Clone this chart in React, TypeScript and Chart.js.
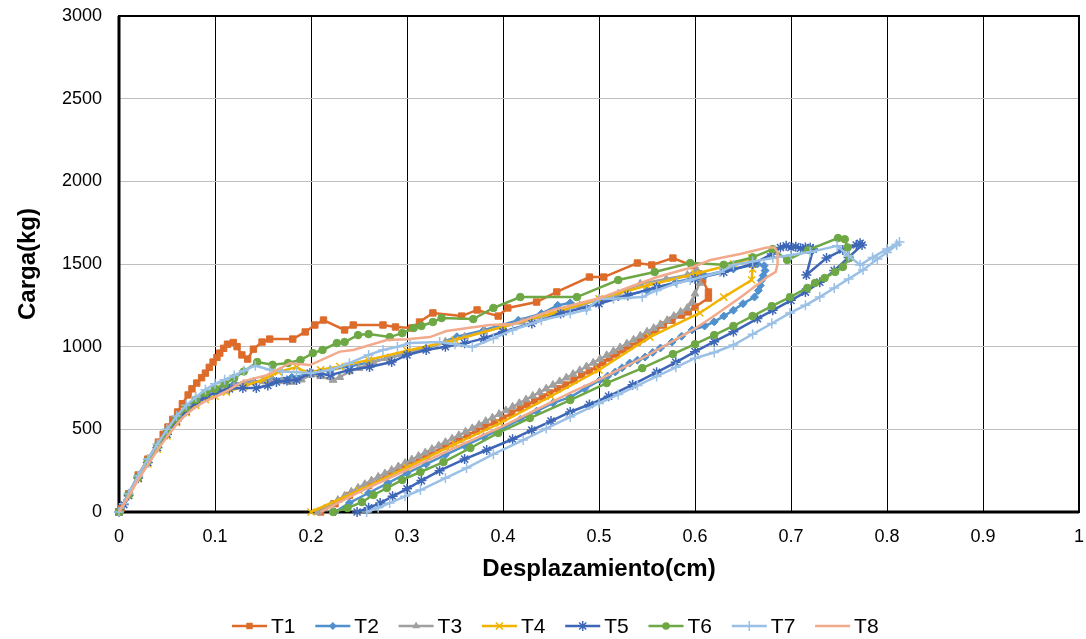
import React, { useEffect, useRef } from "react";
import { Chart, registerables } from "chart.js";

Chart.register(...registerables);

const seriesNames = ["T1", "T2", "T3", "T4", "T5", "T6", "T7", "T8"];
const xTickLabels = ["0", "0.1", "0.2", "0.3", "0.4", "0.5", "0.6", "0.7", "0.8", "0.9", "1"];
const yTickLabels = ["0", "500", "1000", "1500", "2000", "2500", "3000"];
const xAxisTitle = "Desplazamiento(cm)";
const yAxisTitle = "Carga(kg)";

type P = [number, number];

const t1: P[] = [
  [0, 0], [0.002, 20], [0.01, 110], [0.02, 224], [0.03, 320], [0.041, 423], [0.046, 470], [0.051, 514],
  [0.056, 560], [0.061, 605], [0.066, 655], [0.072, 708], [0.076, 745], [0.081, 780], [0.086, 812],
  [0.09, 840], [0.094, 875], [0.098, 907], [0.102, 935], [0.105, 961], [0.109, 990], [0.113, 1015],
  [0.119, 1025], [0.123, 1000], [0.128, 950], [0.134, 925], [0.14, 985], [0.149, 1028], [0.157, 1046],
  [0.181, 1046], [0.194, 1089], [0.204, 1131], [0.213, 1161], [0.235, 1101], [0.244, 1131], [0.275, 1131],
  [0.288, 1119], [0.305, 1113], [0.313, 1149], [0.327, 1204], [0.357, 1185], [0.373, 1222], [0.395, 1185],
  [0.405, 1234], [0.435, 1270], [0.456, 1331], [0.49, 1421], [0.505, 1421], [0.54, 1506], [0.555, 1494],
  [0.577, 1536], [0.597, 1490], [0.604, 1440], [0.608, 1403], [0.614, 1331], [0.614, 1294],
  [0.6, 1240], [0.593, 1210], [0.586, 1191], [0.576, 1160], [0.567, 1131], [0.559, 1100], [0.551, 1070],
  [0.545, 1048], [0.54, 1028], [0.532, 1003], [0.525, 980], [0.518, 955], [0.511, 931], [0.504, 905],
  [0.498, 877], [0.49, 853], [0.482, 829], [0.474, 798], [0.465, 768], [0.457, 745], [0.449, 720],
  [0.441, 696], [0.433, 672], [0.425, 650], [0.418, 629], [0.409, 598], [0.4, 568], [0.391, 541],
  [0.381, 514], [0.372, 490], [0.363, 465], [0.354, 440], [0.34, 400], [0.32, 340], [0.3, 285],
  [0.28, 225], [0.26, 160], [0.24, 100], [0.225, 50], [0.21, 0],
];

const t2: P[] = [
  [0, 0], [0.01, 110], [0.02, 215], [0.03, 315], [0.04, 405], [0.05, 490], [0.06, 570], [0.07, 630],
  [0.08, 680], [0.09, 715], [0.1, 740], [0.11, 760], [0.12, 775], [0.14, 790], [0.16, 800], [0.18, 815],
  [0.2, 835], [0.22, 860], [0.24, 880], [0.26, 905], [0.28, 930], [0.3, 960], [0.32, 990], [0.352, 1060],
  [0.38, 1100], [0.416, 1160], [0.44, 1200], [0.457, 1250], [0.47, 1265], [0.487, 1234], [0.5, 1270],
  [0.52, 1300], [0.55, 1340], [0.58, 1390], [0.61, 1430], [0.64, 1470], [0.665, 1500], [0.672, 1490],
  [0.673, 1460], [0.671, 1430], [0.669, 1400], [0.668, 1370], [0.666, 1340], [0.662, 1300],
  [0.65, 1260], [0.64, 1220], [0.63, 1185], [0.62, 1150], [0.61, 1125], [0.597, 1101], [0.586, 1063],
  [0.576, 1028], [0.564, 992], [0.556, 965], [0.548, 937], [0.54, 918], [0.532, 901], [0.524, 872],
  [0.517, 847], [0.509, 822], [0.501, 798], [0.485, 745], [0.47, 695], [0.452, 659], [0.435, 610],
  [0.418, 560], [0.4, 508], [0.38, 455], [0.36, 400], [0.34, 345], [0.32, 290], [0.3, 235], [0.28, 175],
  [0.26, 115], [0.24, 55], [0.225, 0],
];

const t3: P[] = [
  [0, 0], [0.01, 105], [0.02, 215], [0.03, 310], [0.04, 400], [0.05, 480], [0.06, 560], [0.07, 620],
  [0.08, 670], [0.09, 700], [0.1, 725], [0.11, 745], [0.12, 760], [0.13, 775], [0.14, 785], [0.15, 790],
  [0.16, 795], [0.17, 790], [0.18, 786], [0.19, 800], [0.2, 830], [0.21, 820], [0.223, 798], [0.23, 815],
  [0.24, 850], [0.25, 870], [0.265, 907], [0.28, 930], [0.3, 960], [0.32, 990], [0.34, 1030], [0.36, 1060],
  [0.38, 1090], [0.4, 1120], [0.42, 1150], [0.44, 1180], [0.46, 1210], [0.48, 1250], [0.5, 1285],
  [0.52, 1320], [0.543, 1380], [0.57, 1410], [0.592, 1433], [0.602, 1464], [0.603, 1420], [0.605, 1385],
  [0.6, 1320], [0.597, 1270], [0.592, 1234],
  [0.585, 1210], [0.578, 1185], [0.571, 1160], [0.564, 1135], [0.557, 1112], [0.55, 1090], [0.543, 1066],
  [0.536, 1042], [0.529, 1018], [0.522, 995], [0.515, 972], [0.508, 948], [0.501, 925], [0.494, 902],
  [0.487, 880], [0.48, 857], [0.473, 834], [0.466, 812], [0.459, 790], [0.452, 768], [0.445, 746],
  [0.438, 724], [0.431, 702], [0.424, 680], [0.417, 658], [0.41, 636], [0.403, 614], [0.396, 592],
  [0.389, 570], [0.382, 549], [0.375, 527], [0.368, 506], [0.361, 485], [0.354, 464], [0.347, 443],
  [0.34, 422], [0.333, 401], [0.326, 380], [0.319, 359], [0.312, 338], [0.305, 317], [0.298, 296],
  [0.291, 275], [0.284, 254], [0.277, 233], [0.27, 212], [0.263, 190], [0.256, 168], [0.249, 146],
  [0.242, 122], [0.235, 98], [0.228, 72], [0.221, 46], [0.214, 20], [0.207, 0],
];

const t4: P[] = [
  [0, 0], [0.01, 100], [0.02, 200], [0.03, 290], [0.04, 380], [0.05, 460], [0.06, 540], [0.07, 600],
  [0.08, 645], [0.09, 680], [0.1, 700], [0.112, 725], [0.13, 760], [0.15, 800], [0.166, 847], [0.185, 877],
  [0.196, 840], [0.21, 860], [0.23, 880], [0.26, 920], [0.3, 975], [0.35, 1040], [0.4, 1120], [0.45, 1200],
  [0.5, 1290], [0.55, 1370], [0.6, 1440], [0.64, 1500], [0.659, 1536], [0.66, 1470], [0.659, 1403],
  [0.63, 1300], [0.605, 1204], [0.553, 1058], [0.5, 859], [0.45, 700], [0.397, 538], [0.35, 410],
  [0.3, 270], [0.25, 130], [0.2, 0],
];

const t5: P[] = [
  [0, 0], [0.005, 45], [0.01, 100], [0.02, 205], [0.03, 300], [0.04, 390], [0.05, 470], [0.06, 550],
  [0.07, 610], [0.08, 660], [0.09, 695], [0.102, 726], [0.115, 745], [0.129, 750], [0.143, 750],
  [0.155, 765], [0.164, 786], [0.175, 795], [0.185, 798], [0.199, 840], [0.21, 835], [0.22, 828],
  [0.24, 859], [0.261, 877], [0.284, 907], [0.3, 950], [0.32, 980], [0.34, 1000], [0.36, 1020],
  [0.38, 1050], [0.4, 1090], [0.43, 1140], [0.46, 1200], [0.5, 1260], [0.53, 1310], [0.56, 1360],
  [0.6, 1410], [0.63, 1450], [0.66, 1500], [0.68, 1560], [0.689, 1600], [0.695, 1610], [0.7, 1600],
  [0.705, 1605], [0.71, 1595], [0.715, 1600], [0.72, 1598], [0.723, 1590], [0.716, 1433], [0.737, 1536],
  [0.754, 1585], [0.768, 1615], [0.772, 1625], [0.774, 1615],
  [0.76, 1540], [0.745, 1460], [0.73, 1390], [0.715, 1330], [0.7, 1280], [0.681, 1220], [0.665, 1170],
  [0.64, 1090], [0.62, 1030], [0.6, 970], [0.58, 905], [0.56, 845], [0.535, 770], [0.51, 700],
  [0.49, 650], [0.47, 605], [0.45, 550], [0.43, 495], [0.41, 440], [0.383, 375], [0.36, 320],
  [0.334, 250], [0.315, 190], [0.3, 140], [0.285, 95], [0.272, 54], [0.26, 25], [0.248, 0],
];

const t6: P[] = [
  [0, 0], [0.01, 105], [0.02, 210], [0.03, 310], [0.04, 400], [0.05, 485], [0.06, 565], [0.07, 630],
  [0.08, 680], [0.09, 720], [0.1, 745], [0.11, 775], [0.12, 810], [0.13, 850], [0.144, 907], [0.16, 890],
  [0.176, 901], [0.189, 919], [0.202, 961], [0.212, 980], [0.227, 1022], [0.235, 1028], [0.249, 1070],
  [0.26, 1076], [0.282, 1058], [0.295, 1082], [0.307, 1113], [0.315, 1125], [0.327, 1149], [0.336, 1173],
  [0.369, 1167], [0.39, 1234], [0.418, 1300], [0.477, 1300], [0.52, 1403], [0.558, 1452], [0.595, 1506],
  [0.63, 1495], [0.66, 1540], [0.681, 1590], [0.696, 1524], [0.718, 1585], [0.749, 1657], [0.756, 1650],
  [0.759, 1600], [0.761, 1536],
  [0.754, 1482], [0.746, 1452], [0.735, 1415], [0.725, 1385], [0.717, 1355], [0.699, 1300], [0.68, 1245],
  [0.66, 1185], [0.64, 1125], [0.62, 1070], [0.6, 1015], [0.577, 955], [0.545, 870], [0.508, 780],
  [0.47, 677], [0.428, 568], [0.395, 478], [0.366, 387], [0.338, 302], [0.314, 242], [0.295, 194],
  [0.279, 145], [0.265, 103], [0.253, 60], [0.238, 24], [0.223, 0],
];

const t7: P[] = [
  [0, 0], [0.005, 50], [0.01, 110], [0.02, 220], [0.03, 320], [0.04, 410], [0.05, 500], [0.06, 580],
  [0.07, 645], [0.08, 695], [0.09, 740], [0.1, 775], [0.11, 800], [0.12, 825], [0.13, 855], [0.142, 885],
  [0.157, 860], [0.17, 850], [0.185, 845], [0.2, 840], [0.22, 860], [0.24, 900], [0.26, 950], [0.275, 980],
  [0.29, 1000], [0.303, 1022], [0.334, 1028], [0.35, 1015], [0.368, 998], [0.39, 1050], [0.41, 1101],
  [0.44, 1160], [0.47, 1200], [0.487, 1222], [0.5, 1290], [0.515, 1290], [0.545, 1300], [0.56, 1340],
  [0.581, 1385], [0.595, 1403], [0.626, 1450], [0.64, 1494], [0.66, 1515], [0.681, 1536], [0.7, 1555],
  [0.72, 1572], [0.748, 1610], [0.76, 1550], [0.772, 1494], [0.785, 1540], [0.8, 1590], [0.81, 1620],
  [0.813, 1633], [0.81, 1615],
  [0.8, 1570], [0.79, 1530], [0.775, 1464], [0.76, 1410], [0.745, 1355], [0.73, 1300], [0.715, 1250],
  [0.699, 1204], [0.68, 1140], [0.66, 1075], [0.64, 1010], [0.62, 965], [0.6, 930], [0.58, 875],
  [0.56, 820], [0.54, 765], [0.52, 710], [0.5, 657], [0.47, 575], [0.445, 505], [0.421, 435], [0.39, 350],
  [0.362, 266], [0.34, 205], [0.314, 133], [0.298, 95], [0.282, 54], [0.27, 25], [0.258, 0],
];

const t8: P[] = [
  [0, 0], [0.01, 95], [0.02, 195], [0.03, 285], [0.04, 375], [0.05, 455], [0.06, 530], [0.07, 590],
  [0.08, 635], [0.09, 670], [0.1, 695], [0.115, 740], [0.129, 790], [0.154, 828], [0.178, 900],
  [0.199, 889], [0.23, 970], [0.244, 980], [0.279, 1040], [0.3, 1045], [0.324, 1058], [0.341, 1095],
  [0.386, 1131], [0.41, 1135], [0.452, 1222], [0.501, 1294], [0.532, 1361], [0.56, 1420], [0.598, 1482],
  [0.616, 1524], [0.647, 1560], [0.675, 1600], [0.683, 1600], [0.686, 1570], [0.686, 1500], [0.684, 1452],
  [0.675, 1420], [0.65, 1310], [0.616, 1170], [0.6, 1110], [0.55, 945], [0.5, 800], [0.47, 720],
  [0.4, 520], [0.35, 390], [0.3, 255], [0.25, 120], [0.21, 0],
];

const seriesData: P[][] = [t1, t2, t3, t4, t5, t6, t7, t8];

const seriesColors = ["#DD6B2A", "#5090CD", "#A0A0A0", "#F0B400", "#3E66B6", "#6DA845", "#9BC0E6", "#F2AA8C"];
const seriesMarkers = ["rect", "rectRot", "triangle", "crossRot", "star", "circle", "cross", "none"];
const markerRadius = [4.5, 4, 4.5, 5, 5, 3.8, 5, 0];

const FONT = '"Liberation Sans", Arial, sans-serif';

function drawMarker(ctx: CanvasRenderingContext2D, style: string, x: number, y: number, r: number, color: string) {
  ctx.save();
  ctx.fillStyle = color;
  ctx.strokeStyle = color;
  ctx.lineWidth = 1.5;
  ctx.beginPath();
  if (style === "rect") {
    const s = r * Math.SQRT1_2;
    ctx.rect(x - s, y - s, 2 * s, 2 * s);
    ctx.fill();
  } else if (style === "rectRot") {
    ctx.moveTo(x, y - r);
    ctx.lineTo(x + r, y);
    ctx.lineTo(x, y + r);
    ctx.lineTo(x - r, y);
    ctx.closePath();
    ctx.fill();
  } else if (style === "triangle") {
    ctx.moveTo(x, y - r);
    ctx.lineTo(x + r * 0.87, y + r * 0.5);
    ctx.lineTo(x - r * 0.87, y + r * 0.5);
    ctx.closePath();
    ctx.fill();
  } else if (style === "circle") {
    ctx.arc(x, y, r, 0, Math.PI * 2);
    ctx.fill();
  } else if (style === "cross" || style === "crossRot" || style === "star") {
    const segs: number[] = [];
    if (style === "cross" || style === "star") segs.push(0, Math.PI / 2);
    if (style === "crossRot" || style === "star") segs.push(Math.PI / 4, (3 * Math.PI) / 4);
    for (const a of segs) {
      ctx.moveTo(x - Math.cos(a) * r, y - Math.sin(a) * r);
      ctx.lineTo(x + Math.cos(a) * r, y + Math.sin(a) * r);
    }
    ctx.stroke();
  }
  ctx.restore();
}

const plotBorderPlugin = {
  id: "plotBorder",
  beforeDatasetsDraw(chart: any) {
    const { ctx, chartArea } = chart;
    const { left, top, right, bottom } = chartArea;
    ctx.save();
    ctx.strokeStyle = "#000";
    ctx.lineWidth = 2;
    ctx.strokeRect(left, top, right - left, bottom - top);
    ctx.lineWidth = 3;
    ctx.beginPath();
    ctx.moveTo(left, top);
    ctx.lineTo(left, bottom);
    ctx.lineTo(right, bottom);
    ctx.stroke();
    ctx.restore();
  },
};

const legendPlugin = {
  id: "lineLegend",
  afterDraw(chart: any) {
    const { ctx } = chart;
    const y = 626;
    const lineLen = 35;
    const pitch = 83.3;
    const startX = 232;
    ctx.save();
    ctx.font = `21px ${FONT}`;
    ctx.textBaseline = "middle";
    ctx.textAlign = "left";
    seriesNames.forEach((name, i) => {
      const x0 = startX + i * pitch;
      ctx.strokeStyle = seriesColors[i];
      ctx.lineWidth = 2.5;
      ctx.beginPath();
      ctx.moveTo(x0, y);
      ctx.lineTo(x0 + lineLen, y);
      ctx.stroke();
      if (seriesMarkers[i] !== "none") {
        drawMarker(ctx, seriesMarkers[i], x0 + lineLen / 2, y, markerRadius[i], seriesColors[i]);
      }
      ctx.fillStyle = "#000";
      ctx.fillText(name, x0 + lineLen + 4, y + 1);
    });
    ctx.restore();
  },
};

export default function App() {
  const canvasRef = useRef<HTMLCanvasElement | null>(null);

  useEffect(() => {
    if (!canvasRef.current) return;
    const datasets = seriesData.map((pts, i) => ({
      label: seriesNames[i],
      data: pts.map(([x, y]) => ({ x, y })),
      showLine: true,
      borderColor: seriesColors[i],
      backgroundColor: seriesColors[i],
      borderWidth: 2.5,
      pointStyle: seriesMarkers[i] === "none" ? "circle" : seriesMarkers[i],
      pointRadius: markerRadius[i],
      pointBorderWidth: seriesMarkers[i] === "cross" || seriesMarkers[i] === "crossRot" || seriesMarkers[i] === "star" ? 1.5 : 1,
      pointBackgroundColor: seriesColors[i],
      pointBorderColor: seriesColors[i],
      tension: 0,
      clip: false as any,
      order: seriesNames.length - i,
    }));

    const chart = new Chart(canvasRef.current, {
      type: "scatter",
      data: { datasets },
      options: {
        animation: false,
        responsive: true,
        maintainAspectRatio: false,
        layout: { padding: { left: 0, right: 7, top: 16, bottom: 0 } },
        plugins: { legend: { display: false }, tooltip: { enabled: false } },
        scales: {
          x: {
            type: "linear",
            min: 0,
            max: 1,
            ticks: {
              stepSize: 0.1,
              padding: 14,
              color: "#000",
              font: { family: FONT, size: 18 },
              maxRotation: 0,
              autoSkip: false,
              callback: (v: any) => xTickLabels[Math.round(Number(v) * 10)] ?? "",
            },
            grid: { color: "#000", lineWidth: 1, drawTicks: false },
            border: { display: false },
            title: {
              display: true,
              text: xAxisTitle,
              color: "#000",
              font: { family: FONT, size: 24, weight: "bold" },
              padding: { top: 0, bottom: 55 },
            },
            afterFit: (scale: any) => {
              scale.height = 127;
              scale.paddingLeft = 0;
              scale.paddingRight = 0;
            },
          },
          y: {
            type: "linear",
            min: 0,
            max: 3000,
            ticks: {
              stepSize: 500,
              padding: 17,
              color: "#000",
              font: { family: FONT, size: 18 },
              callback: (v: any) => yTickLabels[Math.round(Number(v) / 500)] ?? "",
            },
            grid: { color: "#BFBFBF", lineWidth: 1, drawTicks: false },
            border: { display: false },
            title: {
              display: true,
              text: yAxisTitle,
              color: "#000",
              font: { family: FONT, size: 24, weight: "bold" },
              padding: { top: 14, bottom: 0 },
            },
            afterFit: (scale: any) => {
              scale.width = 119;
              scale.paddingTop = 0;
              scale.paddingBottom = 0;
            },
          },
        },
      },
      plugins: [plotBorderPlugin, legendPlugin],
    });
    return () => chart.destroy();
  }, []);

  return (
    <div style={{ position: "absolute", left: 0, top: 0, width: 1086, height: 639, background: "#fff" }}>
      <canvas ref={canvasRef} />
    </div>
  );
}
